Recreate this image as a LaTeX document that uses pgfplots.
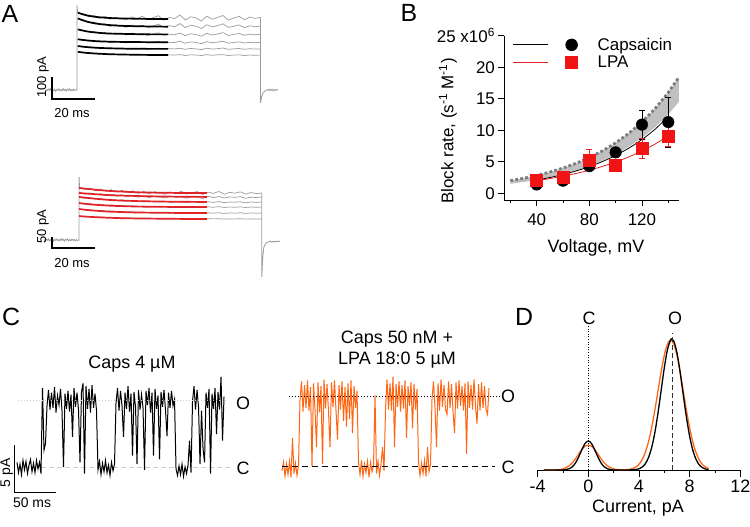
\documentclass[border=0pt]{standalone}
\usepackage{fontspec}
\setmainfont{Liberation Sans}
\usepackage{pgfplots}
\usepackage{pgfplotstable}
\pgfplotsset{compat=1.18}
\newcommand{\fs}[1]{\fontsize{#1}{#1}\selectfont}
\definecolor{tracegray}{RGB}{155,155,155}
\definecolor{bandgray}{RGB}{192,192,192}
\definecolor{dotgray}{RGB}{125,125,125}
\definecolor{lpared}{RGB}{240,20,20}
\definecolor{fitred}{RGB}{225,35,40}
\definecolor{orng}{RGB}{255,102,20}
\definecolor{lightg}{RGB}{205,205,205}

\pgfplotstableread{
t a b c d e f
12 350 324 275 230 199 173
14.5 348 320 272 228 196 170
17 333 306 264 222 192 166
19.5 340 310 266 224 193 167
22 326 298 258 219 189 164
24.5 336 302 262 222 191 165
27 322 289 254 216 187 162
29.5 331 298 259 220 190 163
32 327 292 256 218 188 161
34.5 318 285 250 214 186 160
37 333 296 258 219 189 162
39.5 324 288 252 216 187 160
42 335 294 257 220 190 161
44.5 320 283 248 213 185 158
47 329 291 255 218 188 160
49.5 338 299 260 221 190 162
52 317 286 249 214 186 158
54.5 330 293 254 217 188 160
57 325 288 251 216 187 159
59.5 341 302 259 222 190 161
62 319 284 247 213 185 157
64.5 333 295 256 219 189 160
67 328 290 252 216 187 159
69.5 314 280 245 211 184 157
72 336 297 258 220 190 161
74.5 322 287 250 215 186 158
77 330 293 255 218 188 160
79.5 339 301 261 222 191 161
82 318 285 248 213 185 157
84.5 327 290 253 216 187 159
87 335 296 257 219 189 160
89.5 320 284 249 214 185 157
92 332 292 254 217 188 159
94.5 326 288 251 215 186 158
97 330 291 253 217 187 159
}\dataAtop

\pgfplotstableread{
t a b c d e f
12.6 240 216 197 169 141 109
15.1 230 209 190 164 137 106
17.6 236 214 193 166 138 107
20.1 225 205 186 160 133 104
22.6 232 211 189 163 135 105
25.1 222 202 183 158 131 102
27.6 229 208 186 160 132 103
30.1 218 199 180 156 129 101
32.6 226 205 183 158 130 101
35.1 215 197 178 154 127 99
37.6 224 203 181 156 128 100
40.1 212 195 176 152 126 98
42.6 222 201 179 155 127 99
45.1 210 193 174 151 124 97
47.6 220 199 177 153 126 98
50.1 214 196 173 150 123 96
52.6 208 191 175 152 125 97
55.1 219 200 171 149 122 96
57.6 211 194 176 153 125 98
60.1 222 198 173 150 123 96
62.6 209 190 170 148 121 95
65.1 216 197 175 152 124 97
67.6 220 195 172 150 123 96
70.1 207 189 169 147 121 95
72.6 218 199 174 151 124 97
75.1 212 193 171 149 122 96
77.6 221 198 175 152 124 97
80.1 208 191 170 148 121 95
82.6 217 196 173 150 123 96
85.1 213 194 172 149 122 96
87.6 219 197 174 151 124 97
90.1 209 190 169 148 121 95
92.6 216 195 173 150 123 96
95.1 211 193 171 149 122 96
97.6 214 196 173 150 123 96
}\dataAbot

\begin{document}
\begin{tikzpicture}
\path[use as bounding box] (0bp,0bp) rectangle (750bp,-527bp);

% ---------------- Panel labels ----------------
\node[font=\fs{25}] at (10bp,-14bp) {A};
\node[font=\fs{25}] at (409bp,-13bp) {B};
\node[font=\fs{25}] at (11bp,-317bp) {C};
\node[font=\fs{25}] at (524bp,-317bp) {D};

% ---------------- A top ----------------
\begin{axis}[at={(34.8bp,-105.38bp)}, anchor=south west, scale only axis,
  width=253.7bp, height=103.3bp, xmin=-8, xmax=110, ymin=-70, ymax=400,
  hide axis, clip=false]
\foreach \c in {a,b,c,d,e,f}{
  \addplot[tracegray, line width=0.7bp] table[x=t, y=\c] {\dataAtop};
}
\addplot[tracegray, line width=0.8bp] coordinates {(-2.8,3)(-2.3,-4)(-1.8,5)(-1.3,-2)(-0.8,6)(-0.3,-5)(0.2,2)(0.7,-3)(1.2,4)(1.7,-6)(2.2,3)(2.7,-2)(3.2,5)(3.7,-4)(4.2,2)(4.7,-3)(5.2,6)(5.7,-2)(6.2,3)(6.7,-5)(7.2,4)(7.7,-1)(8.2,5)(8.7,-4)(9.2,2)(9.7,-3)(10.2,4)(10.7,-2)(11.2,1)(11.6,0)(11.6,387)(11.9,352)};
\addplot[tracegray, line width=0.8bp] coordinates {(97,330)(97,-59)(97.5,-30)(98.2,-12)(99,-5)(99.8,-1)(100.5,3)(101,-3)(101.5,4)(102,-2)(102.5,3)(103,-4)(103.5,2)(104,-2)(104.5,3)(105,0)};
\addplot[black, line width=1.7bp] coordinates {(12,352)(14,345)(16,340)(18,336)(20,333)(23,330)(26,328)(30,326)(35,325)(40,324)(47,323)(54,323)};
\addplot[black, line width=1.7bp] coordinates {(12,326)(14,318)(16,312)(18,307)(20,303)(23,299)(26,296)(30,293)(35,291)(40,290)(47,289)(54,288)};
\addplot[black, line width=1.7bp] coordinates {(12,276)(14,271)(16,267)(18,264)(20,262)(23,259)(26,257)(30,256)(35,255)(40,254)(47,253)(54,253)};
\addplot[black, line width=1.7bp] coordinates {(12,231)(14,228)(16,226)(18,224)(20,222.5)(23,221)(26,220)(30,219)(35,218.5)(40,218)(47,217.5)(54,217)};
\addplot[black, line width=1.7bp] coordinates {(12,200)(14,197.5)(16,195.5)(18,194)(20,192.5)(23,191)(26,190)(30,189)(35,188)(40,187.5)(47,187)(54,187)};
\addplot[black, line width=1.7bp] coordinates {(12,174)(14,171)(16,169)(18,167.5)(20,166)(23,164.5)(26,163)(30,162)(35,161)(40,160)(47,159.5)(54,159)};
\addplot[black, line width=1.6bp] coordinates {(0,59)(0,-41)(20,-41)};
\end{axis}
\node[font=\fs{13}, rotate=90] at (43bp,-77bp) {100 pA};
\node[font=\fs{13}] at (72bp,-113bp) {20 ms};

% ---------------- A bottom ----------------
\begin{axis}[at={(34.8bp,-283.96bp)}, anchor=south west, scale only axis,
  width=253.7bp, height=109.9bp, xmin=-8, xmax=110, ymin=-200, ymax=300,
  hide axis, clip=false]
\foreach \c in {a,b,c,d,e,f}{
  \addplot[tracegray, line width=0.7bp] table[x=t, y=\c] {\dataAbot};
}
\addplot[tracegray, line width=0.8bp] coordinates {(-3.7,2)(-3.2,-4)(-2.7,5)(-2.2,-2)(-1.7,6)(-1.2,-5)(-0.7,2)(-0.2,-3)(0.3,4)(0.8,-6)(1.3,3)(1.8,-2)(2.3,5)(2.8,-4)(3.3,2)(3.8,-3)(4.3,6)(4.8,-2)(5.3,3)(5.8,-5)(6.3,4)(6.8,-1)(7.3,5)(7.8,-4)(8.3,2)(8.8,-3)(9.3,4)(9.8,-2)(10.3,3)(10.8,-4)(11.3,2)(11.8,-2)(12.6,0)(12.6,287)(12.8,240)};
\addplot[tracegray, line width=0.8bp] coordinates {(97.6,214)(97.6,-168)(98,-80)(98.5,-35)(99.2,-18)(100,-11)(101,-8)(101.5,-5)(102,-10)(102.5,-6)(103,-9)(103.5,-5)(104,-9)(104.5,-6)(105,-8)(105.5,-5)(106,-7)};
\addplot[fitred, line width=1.7bp] coordinates {(12.6,237)(15,234)(18,231)(22,227)(27,223)(33,220)(40,217)(50,215)(60,214)(72,214)};
\addplot[fitred, line width=1.7bp] coordinates {(12.6,214)(15,212)(18,210)(22,207)(27,204)(33,202)(40,200)(50,198)(60,197)(72,196)};
\addplot[fitred, line width=1.7bp] coordinates {(12.6,196)(15,193)(18,190)(22,186)(27,182)(33,179)(40,177)(50,175)(60,174)(72,173)};
\addplot[fitred, line width=1.7bp] coordinates {(12.6,168)(15,165)(18,162)(22,159)(27,156)(33,154)(40,152)(50,151)(60,150)(72,150)};
\addplot[fitred, line width=1.7bp] coordinates {(12.6,141)(15,138)(18,135)(22,132)(27,129)(33,127)(40,125)(50,124)(60,123)(72,123)};
\addplot[fitred, line width=1.7bp] coordinates {(12.6,109)(15,107)(18,105)(22,103)(27,101)(33,99)(40,98)(50,97)(60,96)(72,96)};
\addplot[black, line width=1.6bp] coordinates {(0,14)(0,-36)(20,-36)};
\end{axis}
\node[font=\fs{13}, rotate=90] at (43bp,-227bp) {50 pA};
\node[font=\fs{13}] at (72bp,-263bp) {20 ms};

% ---------------- B ----------------
\begin{axis}[at={(503.9bp,-200.2bp)}, anchor=south west, scale only axis,
  width=174.9bp, height=164.4bp, xmin=15.1, xmax=148, ymin=-1.1, ymax=25,
  axis x line*=bottom, axis y line*=left, axis line style={-, line width=0.8bp},
  tick align=outside, tick style={black, line width=0.8bp},
  major tick length=5.5bp, minor tick length=3bp,
  xtick={40,80,120}, xticklabels={40,80,120}, minor xtick={20,60,100,140},
  ytick={0,5,10,15,20,25}, yticklabels={0,5,10,15,20,{25 x10\textsuperscript{6}}},
  tick label style={font=\fs{17}},
  xticklabel style={yshift=-4bp},
  clip=false,
  legend image code/.code={\draw[#1, mark=none] (0bp,0bp) -- (35bp,0bp); \draw[#1, only marks] plot coordinates {(58.3bp,0bp)};},
  legend style={at={(axis cs:21.8,22.2)}, anchor=west, draw=none, fill=none, inner sep=0pt, row sep=4bp, nodes={inner sep=0pt}, font=\fs{17}, /tikz/every odd column/.append style={column sep=20bp}},
  legend cell align=left]
\addplot[fill=bandgray, draw=none, forget plot] coordinates {(20,2.0)(30,2.38)(40,2.83)(50,3.37)(60,4.00)(70,4.76)(80,5.66)(90,6.73)(100,8.00)(110,9.51)(120,11.31)(130,13.45)(140,16.0)(148,18.4)(148,14.5)(140,12.52)(130,10.49)(120,8.79)(110,7.37)(100,6.17)(90,5.17)(80,4.33)(70,3.63)(60,3.04)(50,2.55)(40,2.13)(30,1.79)(20,1.5)};
\addplot[dotgray, line width=2.8bp, dash pattern=on 2.8bp off 2.2bp, forget plot] coordinates {(20,2.0)(30,2.38)(40,2.83)(50,3.37)(60,4.00)(70,4.76)(80,5.66)(90,6.73)(100,8.00)(110,9.51)(120,11.31)(130,13.45)(140,16.0)(148,18.4)};
\addplot[black, line width=0.8bp, smooth, forget plot] coordinates {(40,2.1)(50,2.50)(60,2.98)(70,3.55)(80,4.23)(90,5.04)(100,6.01)(110,7.16)(120,8.53)(130,10.17)(140,12.2)};
\addplot[black, only marks, mark=*, mark size=5.8bp, forget plot,
  error bars/.cd, y dir=both, y explicit, error bar style={line width=0.8bp, black}, error mark options={rotate=90, mark size=3bp, line width=0.8bp, black}]
  coordinates {(40,1.4) +- (0,0.2) (60,2.0) +- (0,0.2) (80,4.3) +- (0,0.4) (100,6.5) +- (0,0.3) (120,10.9) +- (0,2.3) (140,11.3) +- (0,3.95)};
\addplot[fitred, line width=0.8bp, smooth, forget plot] coordinates {(40,2.0)(50,2.33)(60,2.71)(70,3.15)(80,3.66)(90,4.27)(100,4.96)(110,5.78)(120,6.72)(130,7.82)(140,9.1)};
\addplot[lpared, only marks, mark=square*, mark size=6bp, forget plot,
  error bars/.cd, y dir=both, y explicit, error bar style={line width=0.8bp, fitred}, error mark options={rotate=90, mark size=3bp, line width=0.8bp, fitred}]
  coordinates {(40,2.0) +- (0,0.3) (60,2.5) +- (0,0.3) (80,5.3) +- (0,1.6) (100,4.5) +- (0,0.9) (120,7.1) +- (0,1.6) (140,9.1) +- (0,1.6)};
\addlegendimage{black, line width=0.8bp, mark=*, mark size=5.8bp}
\addlegendentry{Capsaicin}
\addlegendimage{fitred, line width=0.8bp, mark=square*, mark size=6bp, mark options={lpared}}
\addlegendentry{LPA}
\end{axis}
\node[font=\fs{18}] at (596bp,-248bp) {Voltage, mV};
\node[font=\fs{17}, rotate=90] at (448bp,-131bp) {Block rate, (s\textsuperscript{-1} M\textsuperscript{-1})};

% ---------------- C left ----------------
\begin{axis}[at={(9.8bp,-504.6bp)}, anchor=south west, scale only axis,
  width=235.2bp, height=141bp, xmin=-5, xmax=275, ymin=-4, ymax=11,
  hide axis, clip=false]
\addplot[lightg, line width=0.8bp, dash pattern=on 5bp off 3bp] coordinates {(3.6,0)(257,0)};
\addplot[black, line width=1.0bp] table[row sep=\\, x expr=3.57+1.786*\coordindex, y index=0] {y\\
0.5\\-0.6\\0.3\\-0.8\\0.7\\-0.3\\0.6\\-0.7\\0.2\\0.8\\-0.5\\0.4\\-0.6\\0.7\\-0.2\\0.5\\-0.7\\
8.4\\1.8\\2.5\\6.5\\
8.2\\6.1\\7.9\\6.3\\8.5\\5.8\\7.6\\6.6\\8.3\\6.0\\0.0\\7.8\\6.2\\8.1\\5.9\\7.7\\3.2\\8.4\\6.4\\7.9\\6.1\\0.5\\8.0\\8.9\\-0.7\\8.6\\6.2\\8.3\\5.8\\8.7\\6.3\\7.8\\6.0\\
-0.3\\0.6\\-0.8\\0.4\\-0.5\\0.7\\-0.6\\0.2\\-0.9\\0.5\\-0.4\\0.3\\
6.8\\
8.4\\6.0\\8.1\\6.5\\3.2\\7.9\\6.2\\8.6\\5.9\\7.8\\1.2\\8.0\\6.4\\0.3\\8.2\\6.1\\7.7\\6.3\\-0.3\\8.1\\6.6\\8.4\\5.8\\7.9\\1.2\\8.3\\6.2\\7.6\\0.8\\8.0\\6.4\\8.2\\6.0\\3.3\\7.9\\6.3\\8.1\\6.5\\7.2\\
-0.2\\-0.9\\0.1\\-0.8\\0.3\\-1.0\\0.0\\-0.7\\0.2\\2.8\\-0.6\\
7.0\\8.6\\6.1\\8.2\\6.4\\0.3\\6.0\\2.0\\0.5\\7.9\\6.3\\8.3\\-0.7\\7.8\\6.2\\8.4\\3.5\\8.0\\6.1\\9.6\\2.8\\7.5\\
};
\addplot[lightg, line width=0.9bp, dash pattern=on 1bp off 2bp] coordinates {(4.8,7.13)(253.6,7.13)};
\addplot[black, line width=0.8bp] coordinates {(0,2.34)(0,-2.66)(50,-2.66)};
\end{axis}
\node[font=\fs{18}] at (132bp,-364bp) {Caps 4 µM};
\node[font=\fs{18}] at (243bp,-403bp) {O};
\node[font=\fs{18}] at (243bp,-468bp) {C};
\node[font=\fs{14}, rotate=90] at (6.7bp,-473bp) {5 pA};
\node[font=\fs{14}] at (32bp,-503bp) {50 ms};

% ---------------- C right ----------------
\begin{axis}[at={(277.8bp,-503.6bp)}, anchor=south west, scale only axis,
  width=235.2bp, height=141bp, xmin=-5, xmax=275, ymin=-4, ymax=11,
  hide axis, clip=false]
\addplot[orng, line width=1.0bp] table[row sep=\\, x expr=1.786*\coordindex, y index=0] {y\\
-0.5\\0.4\\-1.1\\0.2\\-0.9\\0.5\\-1.2\\3.0\\-0.8\\0.3\\-1.0\\0.1\\
7.0\\9.0\\5.8\\8.6\\6.2\\9.1\\5.9\\8.4\\
0.0\\
8.8\\6.0\\2.0\\8.9\\5.7\\8.5\\0.2\\9.2\\6.1\\8.7\\5.8\\2.0\\8.9\\6.3\\9.1\\5.9\\2.8\\8.6\\6.0\\9.0\\4.8\\8.4\\4.2\\8.8\\5.0\\9.1\\3.5\\8.5\\6.2\\8.0\\
0.3\\-0.9\\0.6\\-1.1\\0.2\\-0.7\\0.5\\-1.2\\0.4\\-0.6\\0.1\\
7.5\\
-0.8\\0.5\\-1.0\\0.2\\
2.0\\-0.5\\6.0\\
9.2\\6.0\\8.8\\5.9\\9.5\\2.0\\8.7\\6.3\\9.0\\5.8\\8.6\\6.1\\9.1\\3.0\\8.5\\6.4\\8.9\\4.0\\8.7\\6.0\\8.2\\
0.4\\-1.0\\0.3\\-0.8\\0.6\\-1.1\\2.0\\-0.6\\0.2\\
7.2\\9.0\\6.1\\2.0\\8.8\\5.9\\9.2\\6.3\\8.6\\6.0\\5.5\\9.0\\6.2\\8.7\\5.8\\3.5\\8.9\\6.1\\9.1\\6.4\\8.5\\5.9\\8.8\\1.3\\9.0\\6.2\\8.6\\6.0\\9.2\\6.3\\4.5\\8.7\\5.9\\8.9\\6.2\\8.5\\6.0\\5.5\\8.3\\
};
\addplot[black, line width=0.8bp, dash pattern=on 6bp off 4bp] coordinates {(0,0)(253.6,0)};
\addplot[black, line width=0.9bp, dash pattern=on 1bp off 2bp] coordinates {(8.3,7.45)(261.9,7.45)};
\end{axis}
\node[font=\fs{18}, align=center] at (397bp,-350bp) {Caps 50 nM +\\[3bp]LPA 18:0 5 µM};
\node[font=\fs{18}] at (508bp,-396bp) {O};
\node[font=\fs{18}] at (508bp,-467bp) {C};

% ---------------- D ----------------
\begin{axis}[at={(537.6bp,-470bp)}, anchor=south west, scale only axis,
  width=202.7bp, height=160bp, xmin=-4, xmax=12, ymin=0, ymax=160,
  axis x line*=bottom, axis y line=none, axis line style={-, line width=0.8bp},
  tick align=outside, tick style={black, line width=0.8bp},
  major tick length=6.5bp, minor tick length=3bp,
  xtick={-4,0,4,8,12}, xticklabels={-4,0,4,8,12}, minor xtick={-2,2,6,10},
  tick label style={font=\fs{18}}, clip=false]
\addplot[orng, line width=1.3bp, smooth] coordinates {(-3.5,0)(-3,0.02)(-2.75,0.07)(-2.5,0.19)(-2.25,0.48)(-2,1.1)(-1.75,2.3)(-1.5,4.3)(-1.25,7.4)(-1,11.4)(-0.75,16.1)(-0.5,20.6)(-0.25,23.8)(0,25)(0.25,23.8)(0.5,20.6)(0.75,16.1)(1,11.4)(1.25,7.4)(1.5,4.3)(1.75,2.3)(2,1.1)(2.25,0.5)(2.5,0.23)(2.75,0.18)(3,0.3)(3.25,0.7)(3.5,1.4)(3.75,3.0)(4,5.7)(4.25,10.3)(4.5,17.6)(4.75,28.1)(5,42.2)(5.25,59.5)(5.5,78.8)(5.75,98.1)(6,114.7)(6.25,126.0)(6.5,130)(6.75,126.0)(7,114.7)(7.25,98.1)(7.5,78.8)(7.75,59.5)(8,42.2)(8.25,28.1)(8.5,17.6)(8.75,10.3)(9,5.7)(9.25,3.0)(9.5,1.4)};
\addplot[black, line width=1.3bp, smooth] coordinates {(-3.5,0)(-3,0)(-2.5,0)(-2,0.1)(-1.75,0.4)(-1.5,1.3)(-1.25,3.3)(-1,7.2)(-0.75,13.3)(-0.5,20.5)(-0.25,26.6)(0,29)(0.25,26.6)(0.5,20.5)(0.75,13.3)(1,7.2)(1.25,3.3)(1.5,1.3)(1.75,0.4)(2,0.1)(2.5,0)(3,0)(3.5,0.2)(3.75,0.5)(4,1.2)(4.25,2.9)(4.5,6.2)(4.75,12.3)(5,22.3)(5.25,37.1)(5.5,56.7)(5.75,79.5)(6,102.1)(6.25,120.4)(6.5,130.1)(6.6,131)(6.75,129.0)(7,117.3)(7.25,97.8)(7.5,74.8)(7.75,52.5)(8,33.7)(8.25,19.9)(8.5,10.8)(8.75,5.3)(9,2.4)(9.25,1.0)(9.5,0.4)};
\addplot[black, line width=1bp, dash pattern=on 1bp off 1.6bp] coordinates {(0,0)(0,147)};
\addplot[black!80, line width=1.5bp, dash pattern=on 5bp off 3bp] coordinates {(6.66,0)(6.66,137)};
\end{axis}
\node[font=\fs{18}] at (589bp,-318bp) {C};
\node[font=\fs{18}] at (675bp,-318bp) {O};
\node[font=\fs{18}] at (638bp,-508bp) {Current, pA};
\end{tikzpicture}
\end{document}
